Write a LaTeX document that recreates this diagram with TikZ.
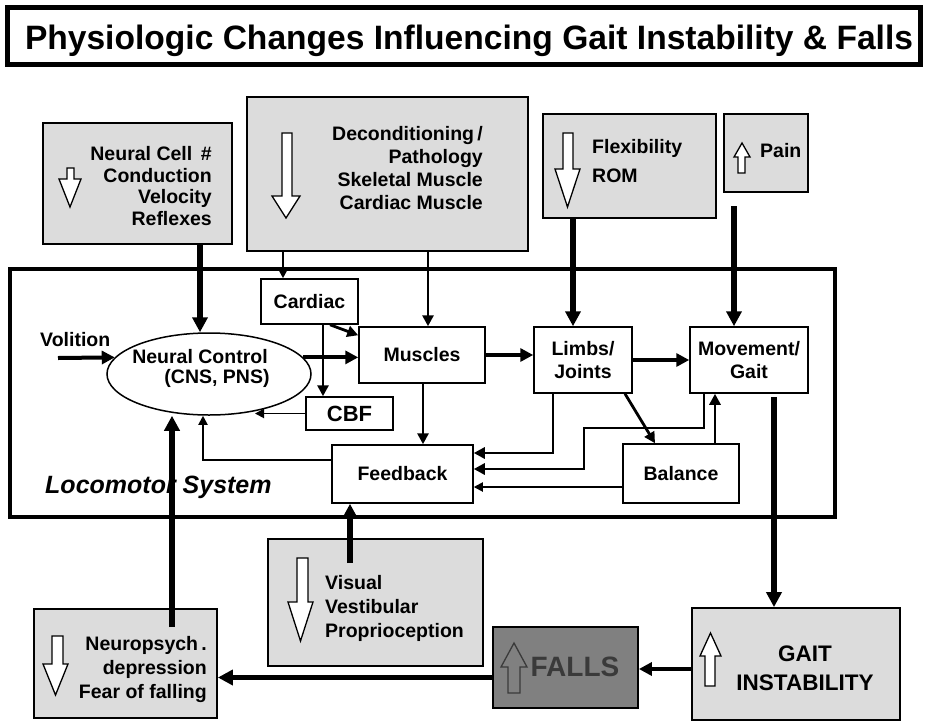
\documentclass[tikz,border=0pt]{standalone}
\usepackage{graphicx}
\usepackage{fontspec}
\setmainfont{Liberation Sans}
\usetikzlibrary{arrows.meta,shapes.geometric}
\definecolor{boxgray}{HTML}{DCDCDC}
\definecolor{fallgray}{HTML}{808080}
\definecolor{falltext}{HTML}{3A3A3A}
% hollow block arrow: #1 style, #2 xl, #3 xr, #4 shaft l, #5 shaft r, #6 shaft end, #7 head start, #8 tip
\newcommand\hollowdn[8]{\draw[#1] (#4,#6) -- (#5,#6) -- (#5,#7) -- (#3,#7) -- ({(#2+#3)/2},#8) -- (#2,#7) -- (#4,#7) -- cycle;}
\newcommand\fsz[2]{\bfseries\fontsize{#1}{#2}\selectfont}
\begin{document}
\begin{tikzpicture}[x=1pt,y=-1pt,font=\fsz{19.5}{23},
  box/.style={draw,line width=1.5pt,fill=white,inner sep=0pt,align=center},
  gbox/.style={draw,line width=1.8pt,fill=boxgray,inner sep=0pt},
  hollow/.style={draw=black,line width=1.3pt,fill=white},
  ar1/.style={line width=1.8pt,-{Triangle[length=9pt,width=9pt]}},
  ar2/.style={line width=2.8pt,-{Triangle[length=11pt,width=11pt]}},
  ar3/.style={line width=4pt,-{Triangle[length=13pt,width=13pt]}},
  ar4/.style={line width=5.5pt,-{Triangle[length=15pt,width=15pt]}}]
\useasboundingbox (0,0) rectangle (927,721);
% title
\node[draw,line width=4.5pt,minimum width=913pt,minimum height=57pt,inner sep=0pt] (title) at (464,36) {};
\node[anchor=base,inner sep=0pt] (titletext) at (469,49.5) {\resizebox{888pt}{24.5pt}{Physiologic Changes Influencing Gait Instability \& Falls}};
% top boxes
\node[gbox,minimum width=189pt,minimum height=121pt] (ncell) at (137.5,183.5) {};
\hollowdn{hollow}{59}{81}{67}{74}{168}{179}{207}
\node[anchor=east,align=right,inner sep=0pt,font=\fsz{19.5}{21.7}] (ncelltext) at (212,186) {Neural Cell \,\#\\Conduction\hspace*{7pt}\\Velocity\\Reflexes};
\node[gbox,minimum width=281pt,minimum height=154pt] (decond) at (387.5,174) {};
\hollowdn{hollow}{272}{300}{282}{292}{133}{196}{218}
\node[anchor=east,align=right,inner sep=0pt,font=\fsz{19.5}{23.3}] (decondtext) at (483,168) {Deconditioning\,/\\Pathology\\Skeletal Muscle\\Cardiac Muscle};
\node[gbox,minimum width=173pt,minimum height=104pt] (flex) at (629.5,166) {};
\hollowdn{hollow}{555}{580}{563}{573}{133}{169}{207}
\node[anchor=west,align=left,inner sep=0pt,font=\fsz{19.5}{29}] (flextext) at (592,161.5) {Flexibility\\ROM};
\node[gbox,minimum width=84pt,minimum height=78pt] (pain) at (766,153) {};
\hollowdn{hollow}{734}{750}{738}{745}{173}{157}{143}
\node[anchor=west,inner sep=0pt] (paintext) at (760,151) {Pain};
% locomotor system
\node[draw,line width=3.5pt,minimum width=825pt,minimum height=248pt,inner sep=0pt] (loco) at (422.5,393) {};
\node[anchor=west,inner sep=0pt,font=\bfseries\itshape\fontsize{25}{30}\selectfont] (locotext) at (45,487) {Locomotor System};
\node[box,minimum width=97pt,minimum height=45pt] (cardiac) at (309.5,301.5) {Cardiac};
\node[box,minimum width=126pt,minimum height=56pt] (muscles) at (422,355) {Muscles};
\node[box,minimum width=98pt,minimum height=66pt] (limbs) at (583,360) {Limbs/\\Joints};
\node[box,minimum width=118pt,minimum height=66pt] (move) at (749,360) {Movement/\\Gait};
\node[draw,ellipse,line width=1.5pt,fill=white,minimum width=204pt,minimum height=82pt,inner sep=0pt] (ell) at (209,374) {};
\node[inner sep=0pt] (elltext1) at (200,357) {Neural Control};
\node[inner sep=0pt] (elltext2) at (217,378) {(CNS, PNS)};
\node[box,minimum width=87pt,minimum height=33pt,font=\fsz{22}{26}] (cbf) at (349.5,413.5) {CBF};
\node[box,minimum width=141pt,minimum height=58pt] (feedback) at (402.5,474) {Feedback};
\node[box,minimum width=116pt,minimum height=59pt] (balance) at (681,473.5) {Balance};
\node[anchor=west,inner sep=0pt] (volition) at (40,340) {Volition};
% bottom boxes
\node[gbox,minimum width=215pt,minimum height=127pt] (visual) at (375.5,602.5) {};
\hollowdn{hollow}{288}{313}{297}{308}{558}{602}{641}
\node[anchor=west,align=left,inner sep=0pt,font=\fsz{19.5}{24}] (visualtext) at (325,608) {Visual\\Vestibular\\Proprioception};
\node[gbox,minimum width=183pt,minimum height=109pt] (neuro) at (125.5,663.5) {};
\hollowdn{hollow}{43}{68}{52}{63}{636}{664}{695}
\node[anchor=east,align=right,inner sep=0pt,font=\fsz{19.5}{24}] (neurotext) at (207,669) {Neuropsych\,.\\depression\\Fear of falling};
\node[gbox,fill=fallgray,minimum width=145pt,minimum height=81pt] (falls) at (565.5,667.5) {};
\hollowdn{draw=falltext,line width=1.3pt}{501}{527}{508}{520}{693}{667}{643}
\node[inner sep=0pt,text=falltext,font=\fsz{28}{32}] (fallstext) at (575,667) {FALLS};
\node[gbox,minimum width=208pt,minimum height=112pt] (gait) at (796,664) {};
\hollowdn{hollow}{700}{721}{705}{715}{686}{656}{633}
\node[align=center,inner sep=0pt,font=\fsz{22.5}{29}] (gaittext) at (805,668) {GAIT\\INSTABILITY};
% named coordinates for connector positions
\coordinate (xa) at (200,0);
\coordinate (xb) at (283,0);
\coordinate (xc) at (428,0);
\coordinate (xd) at (573,0);
\coordinate (xe) at (323,0);
\coordinate (xf) at (330,0);
\coordinate (xg) at (255,0);
\coordinate (xh) at (203,0);
\coordinate (xi) at (423,0);
\coordinate (xj) at (625,0);
\coordinate (xk) at (655,0);
\coordinate (xl) at (715,0);
\coordinate (xm) at (553,0);
\coordinate (xn) at (704,0);
\coordinate (painout) at (734,206);
\coordinate (volin) at (58,358);
\coordinate (mfb) at (584,428);
\coordinate (visin) at (350,563);
\coordinate (neuin) at (172,627);
\coordinate (movout) at (774,397);
% connectors
\draw[ar4] (ncell.south -| xa) -- (ell.north -| xa);
\draw[ar2] (decond.south -| xb) -- (cardiac.north -| xb);
\draw[ar2] (decond.south -| xc) -- (muscles.north -| xc);
\draw[ar4] (flex.south -| xd) -- (limbs.north -| xd);
\draw[ar4] (painout) -- (move.north -| painout);
\draw[ar3] (volin) -- (ell.170);
\draw[ar3] (ell.10) -- (ell.10 -| muscles.west);
\draw[ar2] (cardiac.south -| xe) -- (cbf.north -| xe);
\draw[ar2] (cardiac.south -| xf) -- ([yshift=-9pt]muscles.north west);
\draw[ar1] (cbf.west) -- (cbf.west -| xg);
\draw[ar2] (muscles.south -| xi) -- (feedback.north -| xi);
\draw[ar1] ([yshift=14pt]feedback.west) -| (ell.south -| xh);
\draw[ar3] (muscles.east) -- (muscles.east -| limbs.west);
\draw[ar3] (limbs.east) -- (limbs.east -| move.west);
\draw[ar2] (limbs.south -| xj) -- (balance.north -| xk);
\draw[ar2] (balance.north -| xl) -- (move.south -| xl);
\draw[ar2] (limbs.south -| xm) |- ([yshift=21pt]feedback.east);
\draw[ar2] (move.south -| xn) |- (mfb) |- ([yshift=5pt]feedback.east);
\draw[ar1] ([yshift=-13.5pt]balance.west) -- ([yshift=-13.5pt]balance.west -| feedback.east);
\draw[ar4] (visin) -- (feedback.south -| visin);
\draw[ar4] (neuin) -- (ell.south -| neuin);
\draw[ar4] (movout) -- (gait.north -| movout);
\draw[ar3] ([yshift=-5pt]gait.west) -- ([yshift=-5pt]gait.west -| falls.east);
\draw[ar4] ([yshift=-10pt]falls.west) -- ([yshift=-10pt]falls.west -| neuro.east);
\end{tikzpicture}
\end{document}
